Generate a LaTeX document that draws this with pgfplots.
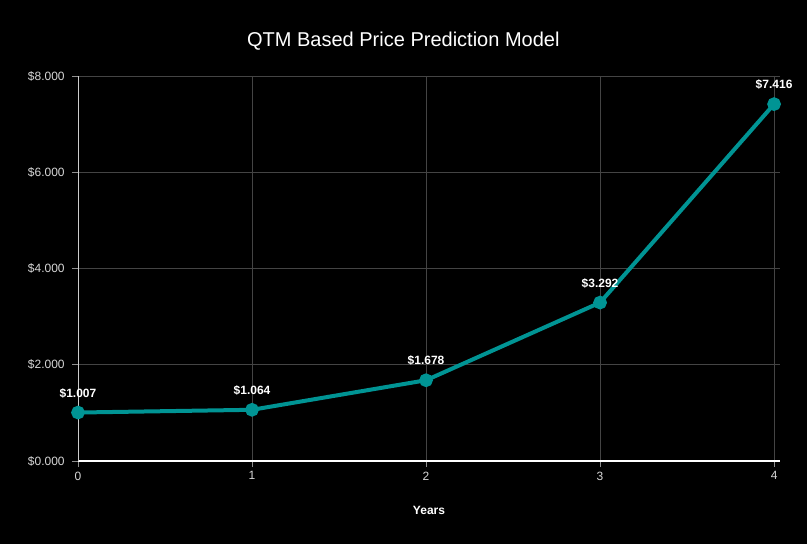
\documentclass[border=0pt]{standalone}
\usepackage{fontspec}
\setmainfont{Liberation Sans}
\usepackage{pgfplots}
\pgfplotsset{compat=1.18}
\usepackage{xcolor}
\definecolor{teal1}{RGB}{0,148,148}
\definecolor{gridc}{RGB}{68,68,68}
\definecolor{tickc}{RGB}{215,215,215}

\begin{document}
\begin{tikzpicture}
    % page background, 1px = 0.75pt
    \fill[black] (-58.5pt,-62.25pt) rectangle (546.75pt,345.75pt);
    \useasboundingbox (-58.5pt,-62.25pt) rectangle (546.75pt,345.75pt);
    \node[font=\fontsize{15}{18}\selectfont, text=white] at (244pt,315pt) {QTM Based Price Prediction Model};
    \begin{axis}[
        at={(0,0)}, anchor=south west,
        scale only axis,
        width=526.5pt, height=288.75pt,
        xmin=0, xmax=4.034,
        ymin=0, ymax=8,
        xtick={0,1,2,3,4},
        ytick={0,2,4,6,8},
        yticklabels={\$0.000,\$2.000,\$4.000,\$6.000,\$8.000},
        /pgf/number format/assume math mode=true,
        axis x line*=bottom, axis y line*=left,
        x axis line style={white, line width=0.9pt},
        y axis line style={white!80!black, line width=0.6pt},
        tick align=outside,
        major tick length=4.5pt,
        tick style={gridc!60!white, line width=0.5pt},
        ticklabel style={text=tickc, font=\fontsize{9}{10}\selectfont},
        yticklabel style={xshift=-2pt},
        grid=major,
        major grid style={gridc, line width=0.6pt},
        xlabel={Years},
        xlabel style={text=white, font=\bfseries\fontsize{9}{10}\selectfont,
            at={(axis description cs:0.5,0)}, anchor=center, yshift=-36.75pt},
        clip=false,
    ]
    \addplot[color=teal1, line width=3pt, mark=*, mark size=3.6pt,
        nodes near coords, point meta=explicit symbolic,
        every node near coord/.style={text=white, font=\bfseries\fontsize{9}{10}\selectfont, yshift=6pt}]
        coordinates {
        (0,1.007) [\$1.007]
        (1,1.064) [\$1.064]
        (2,1.678) [\$1.678]
        (3,3.292) [\$3.292]
        (4,7.416) [\$7.416]
    };
    \end{axis}
\end{tikzpicture}
\end{document}
